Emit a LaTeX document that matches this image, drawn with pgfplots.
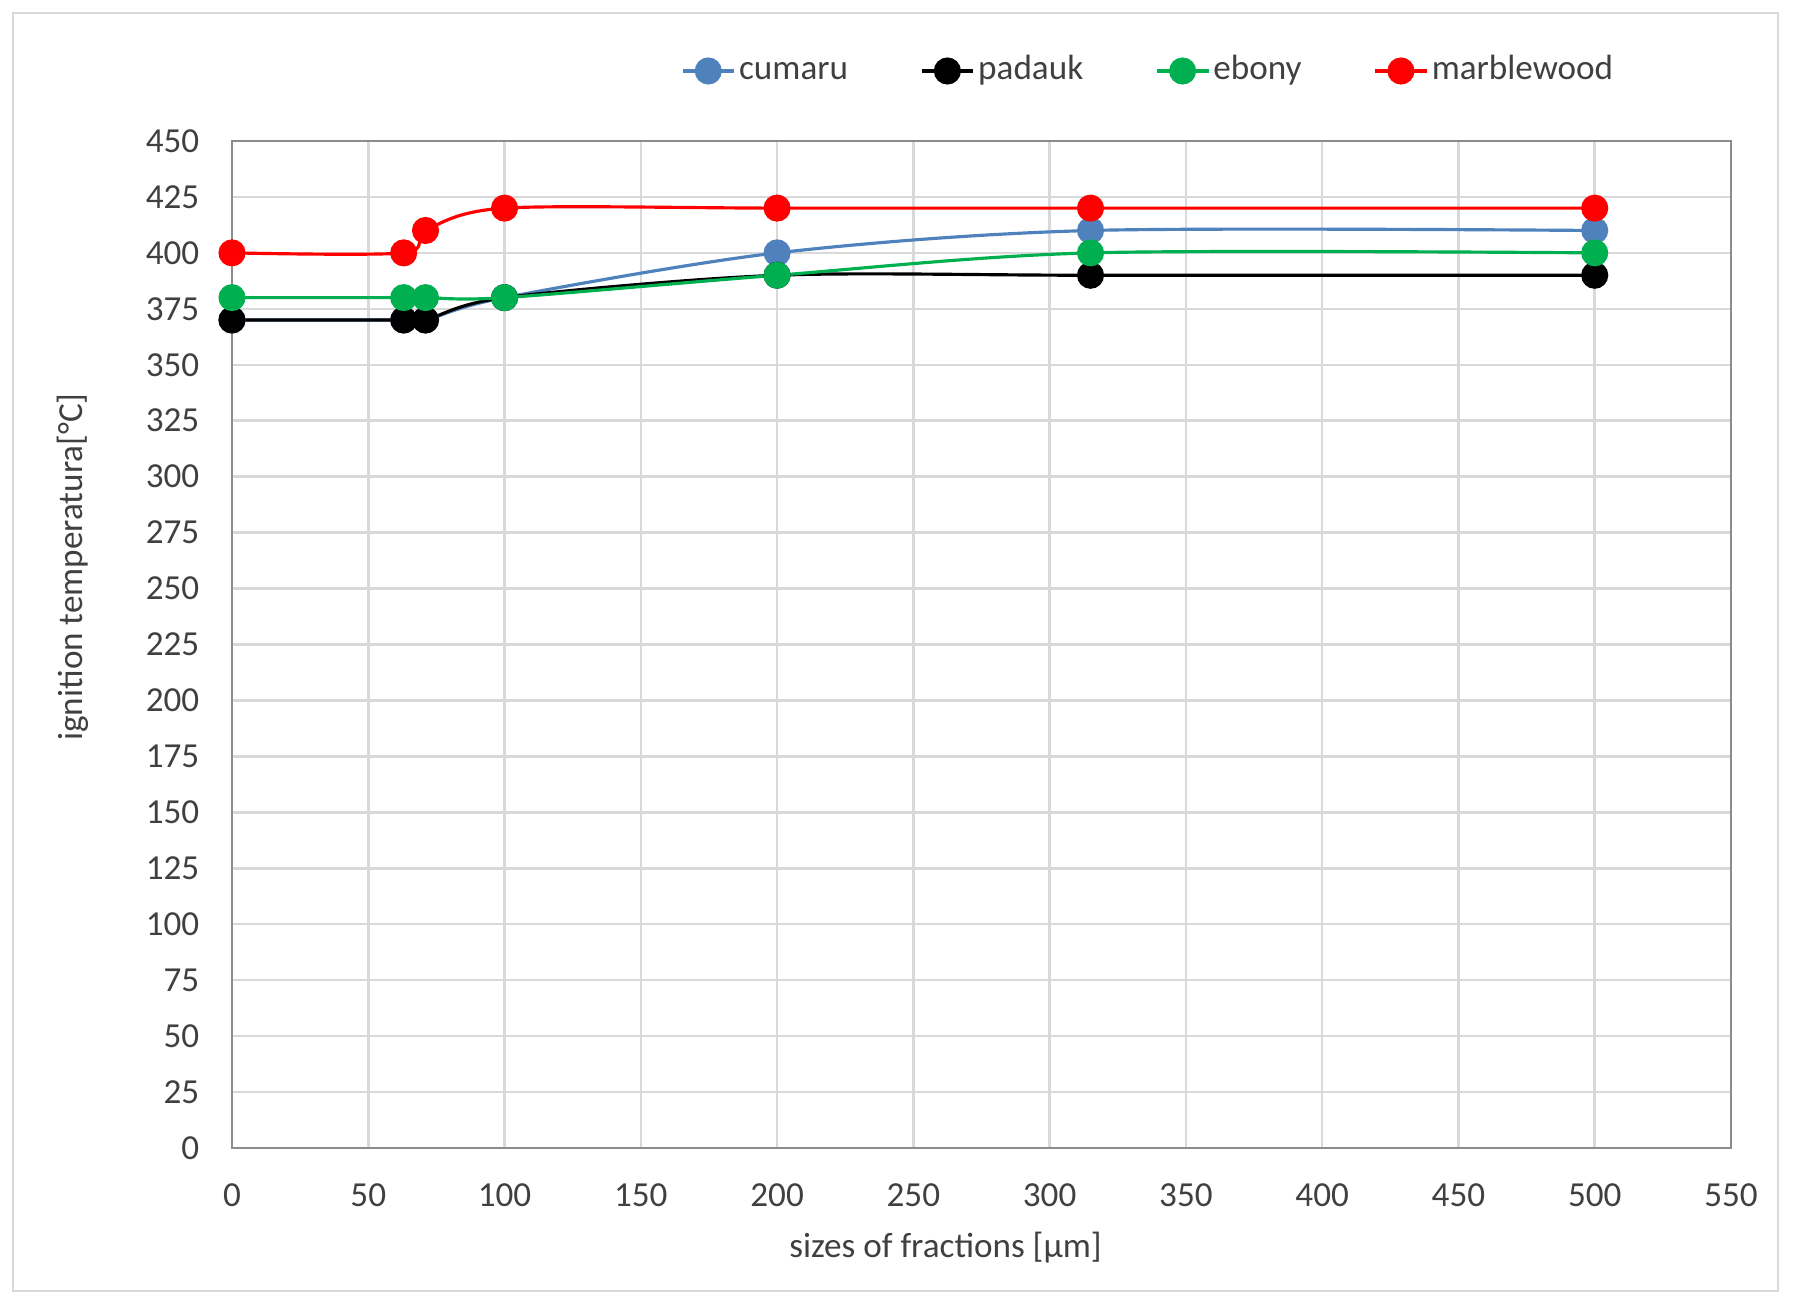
\documentclass[border=0pt]{standalone}
\usepackage{fontspec}
\setmainfont{Carlito}
\usepackage{pgfplots}
\pgfplotsset{compat=1.18}
\definecolor{cblue}{HTML}{4F81BD}
\definecolor{cgreen}{HTML}{00B050}
\definecolor{cred}{HTML}{FF0000}
\definecolor{gridc}{HTML}{D9D9D9}
\definecolor{axc}{HTML}{8C8C8C}
\definecolor{txt}{HTML}{404040}
\begin{document}
\fontsize{10}{12}\selectfont
\begin{tikzpicture}
\path[use as bounding box] (0,0) rectangle (179.5mm,130mm);
\draw[gridc, line width=0.2mm] (1.3mm,0.85mm) rectangle (177.75mm,128.7mm);
\begin{axis}[
  at={(23.2mm,15.2mm)}, anchor=south west,
  scale only axis, width=149.9mm, height=100.7mm,
  xmin=0, xmax=550, ymin=0, ymax=450,
  xtick distance=50, ytick distance=25,
  grid=major,
  major grid style={gridc, line width=0.25mm},
  axis line style={axc, line width=0.25mm},
  tick style={draw=none},
  /pgf/number format/assume math mode=true,
  ticklabel style={text=txt, font=\fontsize{10}{12}\selectfont},
  yticklabel style={inner sep=0pt, anchor=east, xshift=-3.2mm},
  xticklabel style={inner sep=0pt, anchor=north, yshift=-3.5mm},
  xlabel={sizes of fractions [µm]},
  ylabel={ignition temperatura[°C]},
  xlabel style={at={(axis description cs:0.476,-0.0985)}, anchor=center, inner sep=0pt, text=txt},
  ylabel style={at={(axis description cs:-0.106,0.577)}, anchor=center, inner sep=0pt, text=txt},
  every axis plot/.append style={line width=0.9pt, smooth, mark=*, mark size=3.4pt},
  legend columns=4,
  legend cell align=left,
  legend image code/.code={
    \draw[mark repeat=2,mark phase=2,#1] plot coordinates {(0mm,0mm) (2.575mm,0mm) (5.15mm,0mm)};
  },
  legend style={at={(axis description cs:0.2995,1.0695)}, anchor=west, draw=none, fill=none,
    inner sep=0pt, outer sep=0pt, nodes={inner sep=0pt, text=txt, text height=7pt, text depth=2pt},
    /tikz/every even column/.append style={column sep=7.2mm},
    /tikz/every odd column/.append style={column sep=0.35mm}},
]
\addplot[color=cblue, mark options={fill=cblue, draw=cblue}] coordinates {
  (0,370) (63,370) (71,370) (100,380) (200,400) (315,410) (500,410)};
\addlegendentry{cumaru}
\addplot[color=black, mark options={fill=black, draw=black}] coordinates {
  (0,370) (63,370) (71,370) (100,380) (200,390) (315,390) (500,390)};
\addlegendentry{padauk}
\addplot[color=cgreen, mark options={fill=cgreen, draw=cgreen}] coordinates {
  (0,380) (63,380) (71,380) (100,380) (200,390) (315,400) (500,400)};
\addlegendentry{ebony}
\addplot[color=cred, mark options={fill=cred, draw=cred}] coordinates {
  (0,400) (63,400) (71,410) (100,420) (200,420) (315,420) (500,420)};
\addlegendentry{marblewood}
\end{axis}
\end{tikzpicture}
\end{document}
